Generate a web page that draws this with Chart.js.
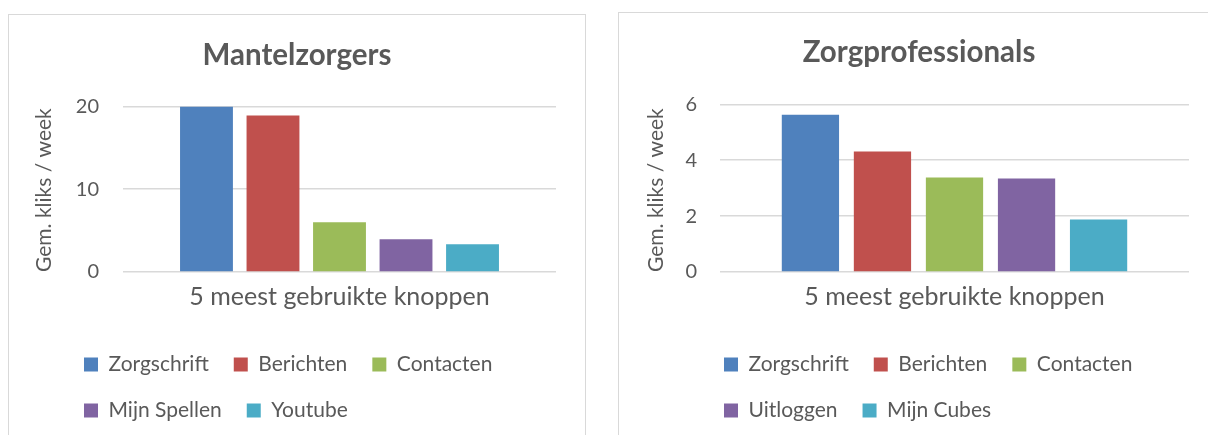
<!DOCTYPE html>
<html lang="nl">
<head>
<meta charset="utf-8">
<title>Gem. kliks per week</title>
<script src="https://cdn.jsdelivr.net/npm/chart.js@4.4.1/dist/chart.umd.min.js"></script>
<style>
    html, body { margin: 0; padding: 0; background: #fff; width: 1208px; height: 435px; overflow: hidden; }
    .kader { position: absolute; border: 1px solid #d9d9d9; background: #fff; }
    #kader-mantel { left: 8px; top: 14px; width: 576px; height: 440px; }
    #kader-prof { left: 618px; top: 12px; width: 600px; height: 440px; }
    canvas { display: block; }
</style>
</head>
<body>
<div class="kader" id="kader-mantel"><canvas id="chart-mantel" width="576" height="420"></canvas></div>
<div class="kader" id="kader-prof"><canvas id="chart-prof" width="600" height="422"></canvas></div>

<script>
// gegevens
const categorie = ['5 meest gebruikte knoppen'];

const knoppenMantel = ['Zorgschrift', 'Berichten', 'Contacten', 'Mijn Spellen', 'Youtube'];
const kliksMantel = [20.0, 18.9, 6.0, 3.95, 3.35];
const ticksMantel = [0, 10, 20];

const knoppenProf = ['Zorgschrift', 'Berichten', 'Contacten', 'Uitloggen', 'Mijn Cubes'];
const kliksProf = [5.63, 4.31, 3.38, 3.35, 1.88];
const ticksProf = [0, 2, 4, 6];

// Office kleuren
const kleuren = ['#4f81bd', '#c0504d', '#9bbb59', '#8064a2', '#4bacc6'];

const tekstKleur = '#595959';
const lettertype = 'Lato, "Open Sans", sans-serif';

// legenda neemt geen ruimte in de layout en komt op een vaste plek (links uitgelijnd zoals in Excel),
// titel gecentreerd over het hele kader
const legendaVerschuiven = {
    id: 'legendaVerschuiven',
    beforeLayout(chart) {
        const lg = chart.legend;
        if (lg && !lg.vasteHoogte) {
            const origFit = lg.fit;
            lg.fit = function () {
                origFit.call(this);
                this.height = 0;
            };
            lg.vasteHoogte = true;
        }
    },
    afterLayout(chart, args, opts) {
        if (chart.titleBlock) {
            chart.titleBlock.left = 0;
            chart.titleBlock.right = chart.width;
        }
        const lg = chart.legend;
        if (!lg || opts.left === undefined) return;
        lg.left = opts.left;
        lg.right = opts.left + opts.width;
        lg.top = opts.top;
        lg.bottom = opts.top + 120;
        lg.height = 120;
    }
};

function maakGrafiek(canvasId, titel, knoppen, kliks, yTicks, opmaak) {
    const datasets = knoppen.map((knop, i) => ({
        label: knop,
        data: [kliks[i]],
        backgroundColor: kleuren[i],
        borderWidth: 0,
        categoryPercentage: 0.768,
        barPercentage: 0.795
    }));

    new Chart(document.getElementById(canvasId), {
        type: 'bar',
        data: {
            labels: categorie,
            datasets: datasets
        },
        options: {
            responsive: false,
            animation: false,
            layout: {
                padding: { left: 0, right: opmaak.rechts, top: 0, bottom: opmaak.onder }
            },
            scales: {
                x: {
                    grid: { display: false },
                    border: { display: false },
                    ticks: {
                        color: tekstKleur,
                        padding: 2,
                        font: { family: lettertype, size: 25 }
                    },
                    afterFit: (scale) => { scale.height = 60; }
                },
                y: {
                    min: yTicks[0],
                    max: yTicks[yTicks.length - 1],
                    grid: {
                        color: '#d9d9d9',
                        lineWidth: 1.6,
                        drawTicks: false
                    },
                    border: { display: false },
                    ticks: {
                        stepSize: yTicks[1] - yTicks[0],
                        color: tekstKleur,
                        padding: opmaak.tickAfstand,
                        font: { family: lettertype, size: 20 }
                    },
                    title: {
                        display: true,
                        text: 'Gem. kliks / week',
                        align: 'start',
                        color: tekstKleur,
                        padding: { top: opmaak.titelAfstand, bottom: 0 },
                        font: { family: lettertype, size: 21 }
                    },
                    afterFit: (scale) => { scale.width = opmaak.yBreedte; }
                }
            },
            plugins: {
                title: {
                    display: true,
                    text: titel,
                    color: tekstKleur,
                    padding: { top: opmaak.kopBoven, bottom: opmaak.kopOnder },
                    font: { family: lettertype, size: 29.5, weight: 'bold' }
                },
                legend: {
                    position: 'bottom',
                    align: 'start',
                    labels: {
                        color: tekstKleur,
                        boxWidth: 14,
                        boxHeight: 14,
                        padding: 25,
                        font: { family: lettertype, size: 21 }
                    }
                },
                legendaVerschuiven: opmaak.legenda,
                tooltip: { enabled: false }
            }
        },
        plugins: [legendaVerschuiven]
    });
}

document.addEventListener('DOMContentLoaded', () => {
    maakGrafiek('chart-mantel', 'Mantelzorgers', knoppenMantel, kliksMantel, ticksMantel, {
        rechts: 29,
        onder: 103,
        yBreedte: 114,
        tickAfstand: 24,
        titelAfstand: 23,
        kopBoven: 23,
        kopOnder: 33,
        legenda: { left: 50, top: 314, width: 520 }
    });

    maakGrafiek('chart-prof', 'Zorgprofessionals', knoppenProf, kliksProf, ticksProf, {
        rechts: 30,
        onder: 103,
        yBreedte: 101,
        tickAfstand: 23,
        titelAfstand: 25,
        kopBoven: 22,
        kopOnder: 34,
        legenda: { left: 80, top: 316, width: 520 }
    });
});
</script>
</body>
</html>
